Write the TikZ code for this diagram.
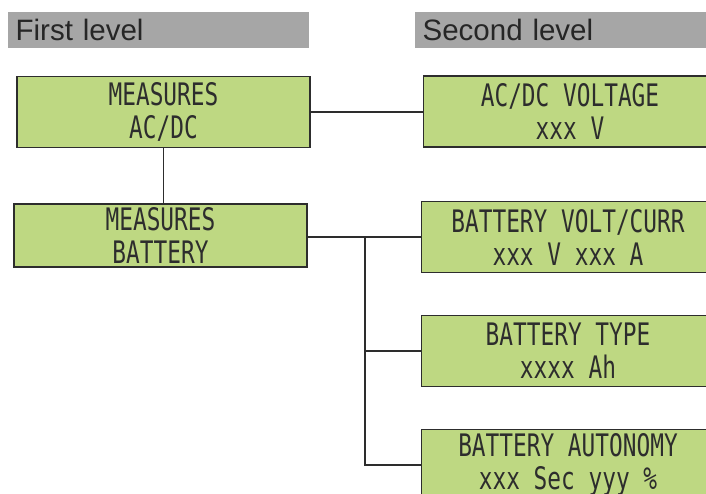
\documentclass[tikz,border=0pt]{standalone}
\usepackage{fontspec}
\setmainfont{Liberation Sans}
\newfontfamily\lcdfont[FakeStretch=0.735]{DejaVu Sans Mono}
\definecolor{lcdverde}{RGB}{190,216,130}
\definecolor{barragris}{RGB}{166,166,166}
\definecolor{tinta}{RGB}{45,45,45}

\begin{document}
\begin{tikzpicture}[x=1pt, y=-1pt, line width=1.3pt, color=tinta,
  lcd/.style={draw=tinta, fill=lcdverde, minimum width=293pt, minimum height=71pt,
    inner sep=0pt, align=center, font=\lcdfont\fontsize{31}{33}\selectfont},
  nivel/.style={fill=barragris, minimum height=36pt, inner xsep=8pt, inner ysep=0pt,
    anchor=west, text height=21pt, text depth=0pt, text=black!85,
    font=\fontsize{29.5}{30}\selectfont}]
  \useasboundingbox (0,0) rectangle (706,493);
  \clip (0,0) rectangle (706,493);
  % cabeceras
  \node[nivel, text width=285pt] (nivel1) at (7,30) {First level};
  \node[nivel, text width=300pt] (nivel2) at (414,30) {Second level};
  % primer nivel
  \node[lcd] (medac) at (163.5,112) {MEASURES\\AC/DC};
  \node[lcd, minimum height=63pt] (medbat) at (160.5,235.5) {MEASURES\\BATTERY};
  % segundo nivel
  \node[lcd] (volt) at (570,111.5) {AC/DC VOLTAGE\\xxx V};
  \node[lcd] (batvc) at (568,237) {BATTERY VOLT/CURR\\xxx V xxx A};
  \node[lcd] (battipo) at (568,351) {BATTERY TYPE\\xxxx Ah};
  \node[lcd] (batauto) at (568,465) {BATTERY AUTONOMY\\xxx Sec yyy \%};
  % conexiones
  \coordinate (rama) at (365,237);
  \draw (medac.east) -- (medac.east -| volt.west);
  \draw (medac.south) -- (medac.south |- medbat.north);
  \draw (medbat.east |- batvc.west) -- (batvc.west);
  \draw (rama) |- (battipo.west);
  \draw (rama) |- (batauto.west);
\end{tikzpicture}
\end{document}
